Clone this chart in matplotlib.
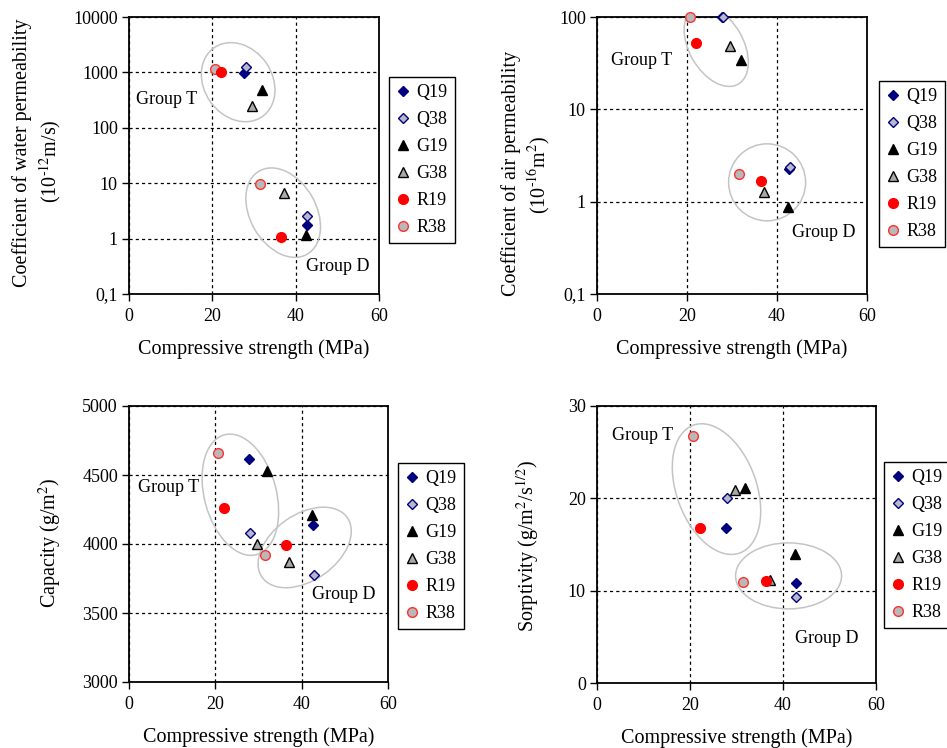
import matplotlib
matplotlib.use("Agg")
import matplotlib.pyplot as plt
from matplotlib.patches import Ellipse
from matplotlib.lines import Line2D
import matplotlib.transforms as mtransforms
from matplotlib.ticker import FixedLocator, FuncFormatter

plt.rcParams['font.family'] = ['Liberation Serif', 'DejaVu Serif']
plt.rcParams['mathtext.fontset'] = 'stix'

# mixes and compressive strength (MPa), [Group T, Group D]
mixes = ['Q19', 'Q38', 'G19', 'G38', 'R19', 'R38']
strength = {
    'Q19': [27.7, 42.7],
    'Q38': [28.0, 42.8],
    'G19': [31.9, 42.5],
    'G38': [29.6, 37.1],
    'R19': [22.1, 36.4],
    'R38': [20.7, 31.5],
}

# water permeability (10^-12 m/s)
water = {
    'Q19': [975, 1.76],
    'Q38': [1230, 2.6],
    'G19': [480, 1.16],
    'G38': [250, 6.6],
    'R19': [1000, 1.09],
    'R38': [1170, 9.6],
}
# air permeability (10^-16 m2)
air = {
    'Q19': [100, 2.25],
    'Q38': [100, 2.35],
    'G19': [34.4, 0.88],
    'G38': [49, 1.28],
    'R19': [52, 1.67],
    'R38': [100, 2.0],
}
# capacity (g/m2)
capacity = {
    'Q19': [4617, 4138],
    'Q38': [4078, 3772],
    'G19': [4528, 4213],
    'G38': [4003, 3871],
    'R19': [4261, 3991],
    'R38': [4660, 3921],
}
# sorptivity (g/m2/s^1/2)
sorptivity = {
    'Q19': [16.8, 10.8],
    'Q38': [20.0, 9.3],
    'G19': [21.1, 14.0],
    'G38': [20.9, 11.2],
    'R19': [16.8, 11.1],
    'R38': [26.7, 10.9],
}

# marker styles
styles = {
    'Q19': dict(marker='D', ms=4.8, mfc='#000080', mec='#000080', mew=1),
    'Q38': dict(marker='D', ms=4.8, mfc='#B8B8C8', mec='#000080', mew=1),
    'G19': dict(marker='^', ms=7, mfc='black', mec='black', mew=1),
    'G38': dict(marker='^', ms=7, mfc='#A8A8A8', mec='black', mew=1),
    'R19': dict(marker='o', ms=7, mfc='#FF0000', mec='#FF0000', mew=1),
    'R38': dict(marker='o', ms=7, mfc='#B8B8B8', mec='#FF3030', mew=1),
}
draw_order = ['Q19', 'Q38', 'G19', 'G38', 'R38', 'R19']

W, H = 947, 748
fig = plt.figure(figsize=(W / 100, H / 100), dpi=100)


def px_axes(left, top, right, bottom):
    return fig.add_axes([left / W, 1 - bottom / H, (right - left) / W, (bottom - top) / H])


def comma(v, pos):
    s = ('%g' % v)
    return s.replace('.', ',')


def setup(ax, log, ylim, yticks):
    ax.set_xlim(0, 60)
    ax.set_ylim(*ylim)
    if log:
        ax.set_yscale('log')
    ax.xaxis.set_major_locator(FixedLocator([0, 20, 40, 60]))
    ax.yaxis.set_major_locator(FixedLocator(yticks))
    ax.yaxis.set_minor_locator(FixedLocator([]))
    ax.yaxis.set_major_formatter(FuncFormatter(comma))
    ax.tick_params(direction='out', length=5, width=1, labelsize=13, pad=3)
    ax.tick_params(axis='x', pad=5)
    for sp in ax.spines.values():
        sp.set_linewidth(1.3)
    ax.grid(True, color='black', linestyle=(0, (2.5, 2.5)), linewidth=0.9)
    ax.set_axisbelow(True)
    ax.set_xlabel('Compressive strength (MPa)', fontsize=14.5, labelpad=10)


def scatter(ax, data):
    for m in draw_order:
        ax.plot(strength[m], data[m], linestyle='none', clip_on=False, zorder=3, **styles[m])


def ellipse(ax, cx, cy, w, h, angle):
    # size in pixels, centre in data coordinates
    tr = fig.dpi_scale_trans + mtransforms.ScaledTranslation(cx, cy, ax.transData)
    e = Ellipse((0, 0), w / 100, h / 100, angle=angle, transform=tr,
                fill=False, edgecolor='#C4C4C4', linewidth=1.1, zorder=2)
    ax.add_patch(e)


def legend(ax, left, top):
    handles = [Line2D([], [], linestyle='none', **styles[m]) for m in mixes]
    lg = ax.legend(handles, mixes, loc='upper left', bbox_to_anchor=(left / W, 1 - top / H),
                   bbox_transform=fig.transFigure, fontsize=13, frameon=True, fancybox=False,
                   edgecolor='black', framealpha=1, borderaxespad=0, borderpad=0.4,
                   handlelength=0.8, handletextpad=0.3, labelspacing=0.55)
    lg.get_frame().set_linewidth(1.0)


def group_text(ax, t, d):
    ax.text(t[0], t[1], 'Group T', fontsize=13, ha='center', va='center')
    ax.text(d[0], d[1], 'Group D', fontsize=13, ha='center', va='center', clip_on=False)


def ylab(x, y, s):
    fig.text(x / W, 1 - y / H, s, rotation=90, ha='center', va='center', fontsize=14.5)


# water permeability
ax1 = px_axes(129, 17, 379, 294)
setup(ax1, True, (0.1, 10000), [0.1, 1, 10, 100, 1000, 10000])
scatter(ax1, water)
ellipse(ax1, 26.2, 666, 68, 84, 35)
ellipse(ax1, 37.0, 2.94, 66, 96, 30)
group_text(ax1, (9.0, 330), (50.2, 0.31))
legend(ax1, 389, 77)
ylab(22, 153, 'Coefficient of water permeability')
ylab(50, 161, r'(10$^{\text{-}12}$m/s)')

# air permeability
ax2 = px_axes(597, 17, 867, 294)
setup(ax2, True, (0.1, 100), [0.1, 1, 10, 100])
scatter(ax2, air)
ellipse(ax2, 26.5, 48.5, 54, 88, 30)
ellipse(ax2, 37.8, 1.62, 77, 77, 0)
group_text(ax2, (9.9, 33.6), (50.4, 0.46))
legend(ax2, 879, 81)
ylab(511, 173, 'Coefficient of air permeability')
ylab(539, 175, r'(10$^{\text{-}16}$m$^2$)')

# capacity
ax3 = px_axes(129, 406, 388, 682)
setup(ax3, False, (3000, 5000), [3000, 3500, 4000, 4500, 5000])
scatter(ax3, capacity)
ellipse(ax3, 25.8, 4357, 72, 124, 15)
ellipse(ax3, 40.7, 3975, 104, 66, 35)
group_text(ax3, (9.1, 4408), (49.8, 3632))
legend(ax3, 398, 463)
ylab(50, 543, r'Capacity (g/m$^2$)')

# sorptivity
ax4 = px_axes(597, 406, 876, 683)
setup(ax4, False, (0, 30), [0, 10, 20, 30])
scatter(ax4, sorptivity)
ellipse(ax4, 25.7, 21.0, 80, 136, 20)
ellipse(ax4, 41.2, 11.6, 106, 66, 0)
group_text(ax4, (9.9, 26.8), (49.4, 4.8))
legend(ax4, 884, 462)
ylab(528, 546, r'Sorptivity (g/m$^2$/s$^{1/2}$)')

fig.savefig('out.png', dpi=100)
